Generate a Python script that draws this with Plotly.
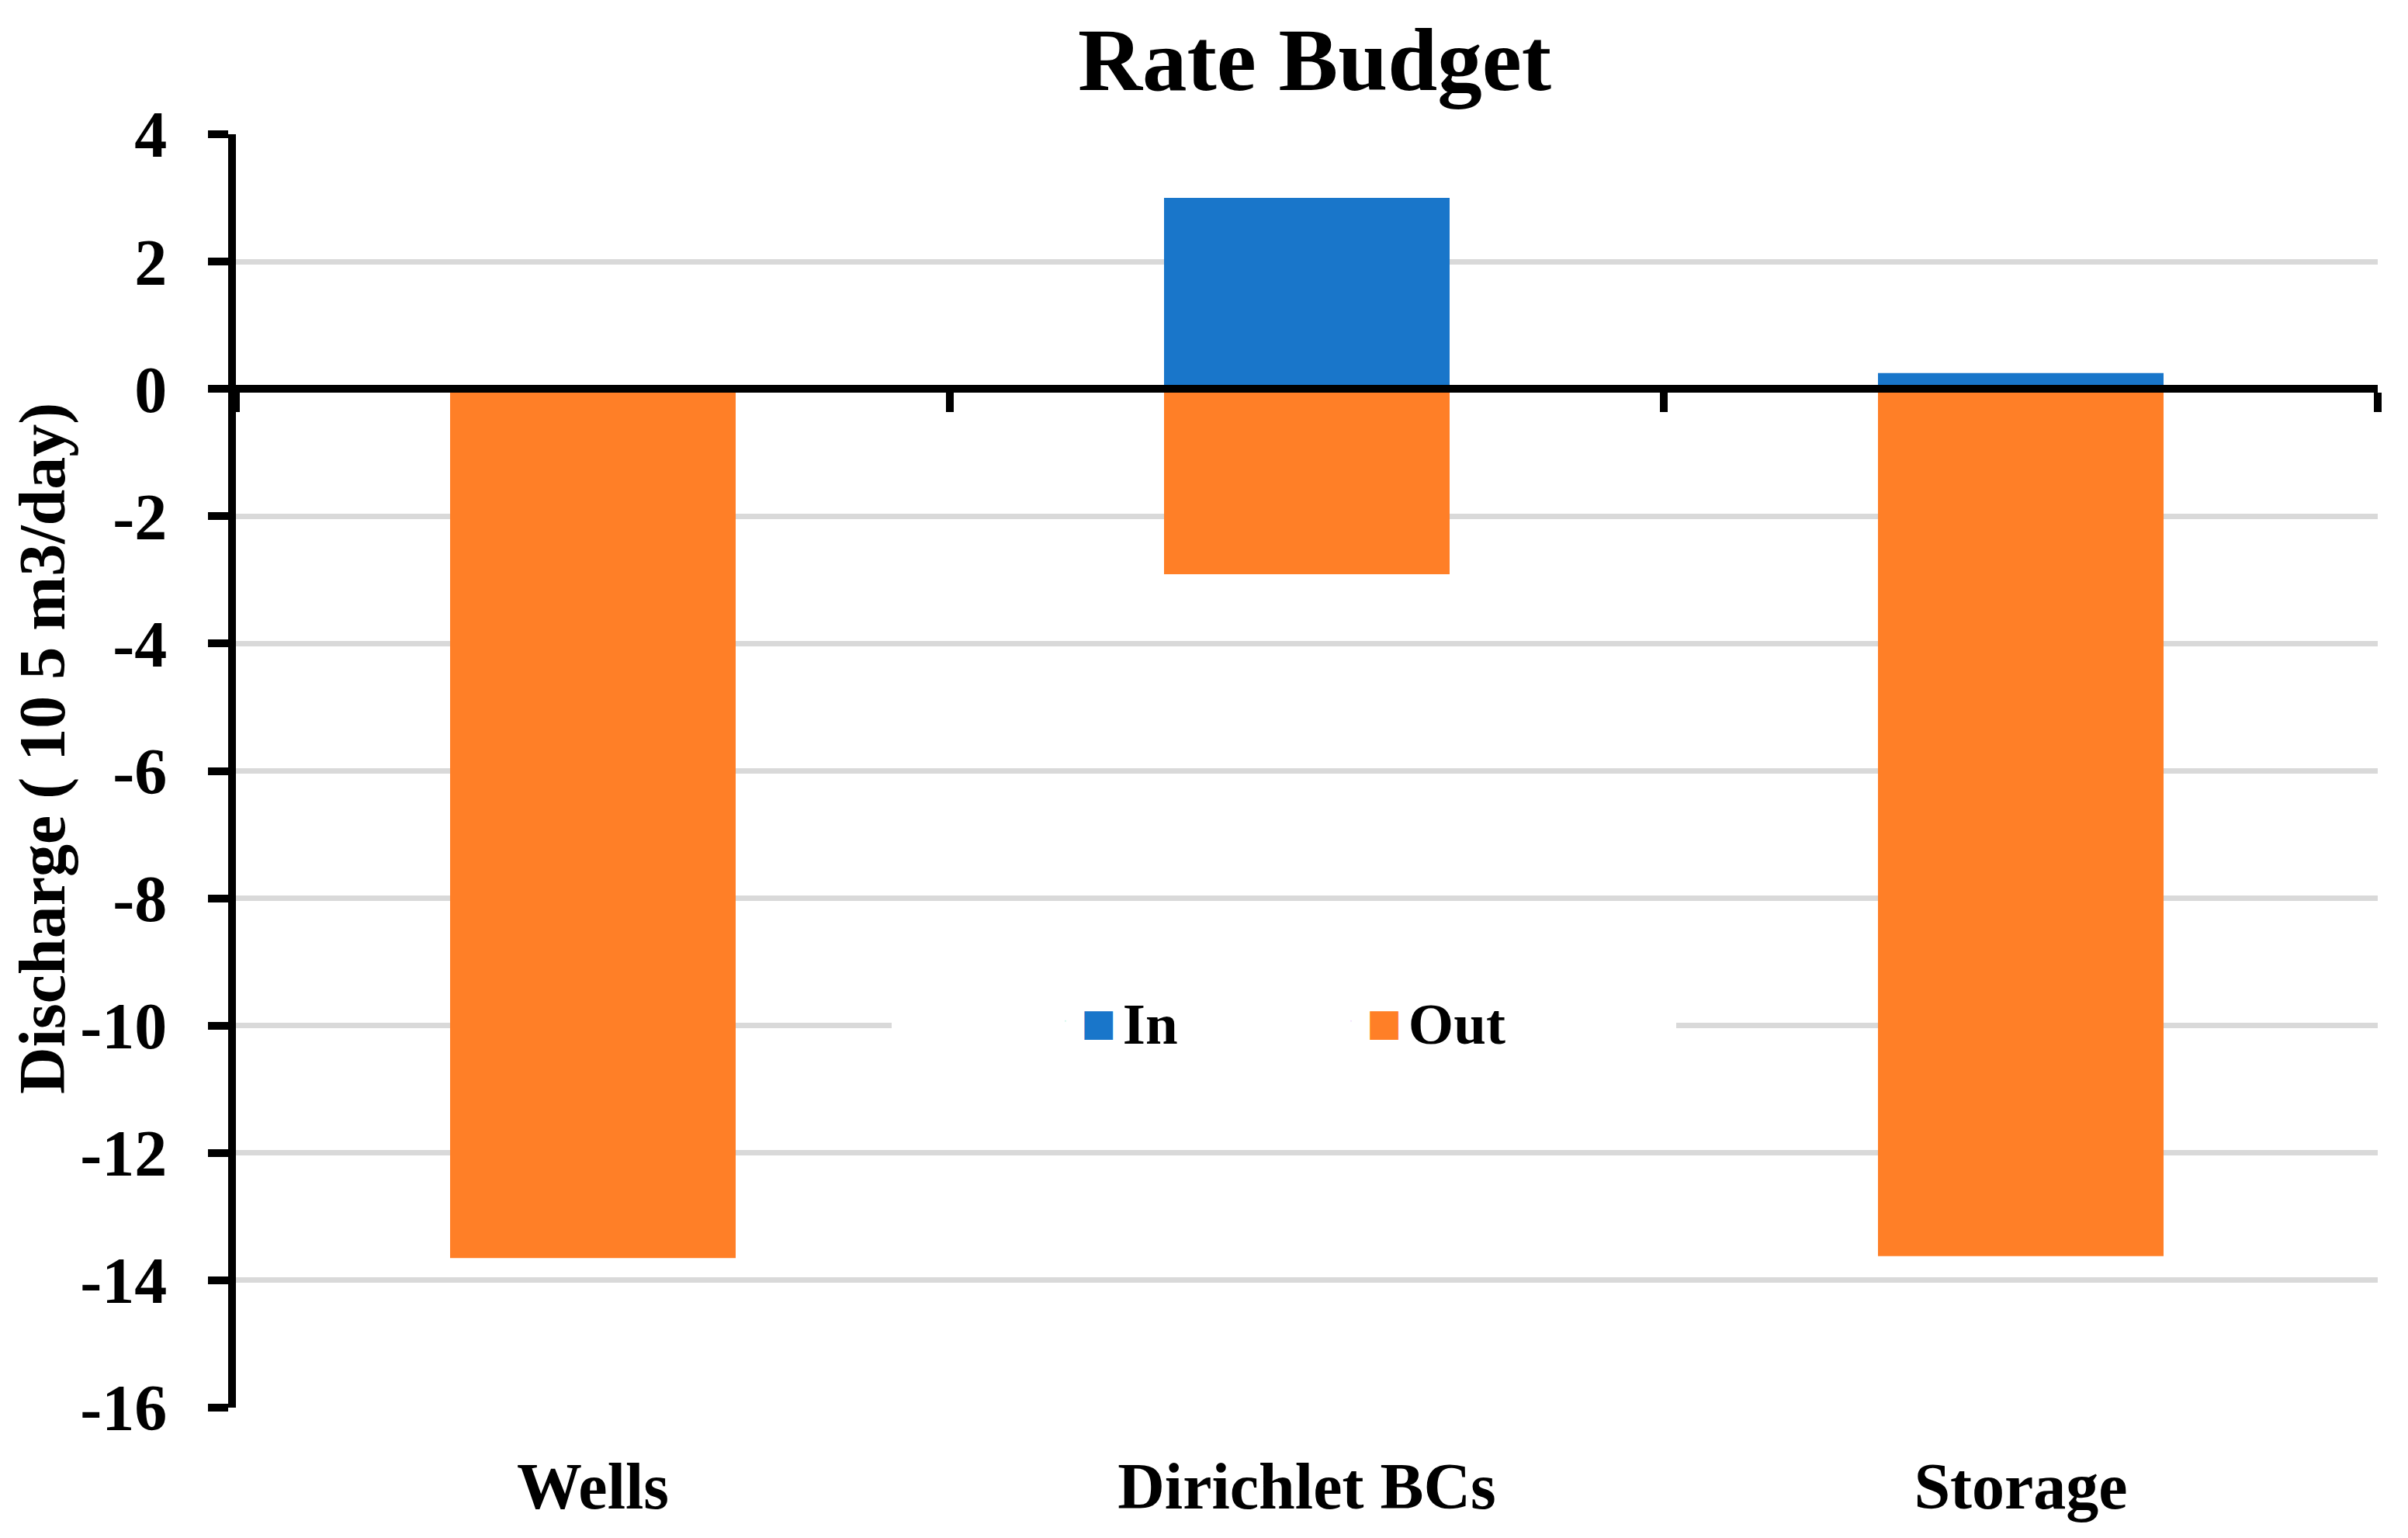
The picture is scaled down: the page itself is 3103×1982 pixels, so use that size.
import plotly.graph_objects as go

# ---------------- data ----------------
categories = ["Wells", "Dirichlet BCs", "Storage"]
rate_in = [0.0, 3.0, 0.25]
rate_out = [-13.65, -2.91, -13.62]
series_names = ["In", "Out"]
series_colors = ["#1976CA", "#FF7F27"]
y_tick_values = [4, 2, 0, -2, -4, -6, -8, -10, -12, -14, -16]
y_tick_labels = ["4", "2", "0", "-2", "-4", "-6", "-8", "-10", "-12", "-14", "-16"]
chart_title = "Rate Budget"
y_title = "Discharge ( 10 5 m3/day)"

# ---------------- layout constants ----------------
# the page body adds an 8px margin, so the figure is drawn 8px in from the window corner
W, H = 3087, 1966
ML, MR, MT, MB = 296, 31, 165, 160
PW, PH = W - ML - MR, H - MT - MB
FONT = "Liberation Serif"
y_min, y_max = min(y_tick_values), max(y_tick_values)
zero_pos = (0 - y_min) / (y_max - y_min)


def px_x(xp):  # figure pixel -> paper x
    return (xp - ML) / PW


def px_y(yp):  # figure pixel -> paper y
    return (H - MB - yp) / PH


fig = go.Figure()
for vals, name, col in zip([rate_in, rate_out], series_names, series_colors):
    fig.add_trace(go.Bar(
        x=categories, y=vals, name=name, width=0.4,
        marker=dict(color=col, line=dict(width=0)),
        showlegend=False, hoverinfo="x+y+name",
    ))

# legend entries (large square swatches) + carrier for the zero-line axis
legend_widths = [119, 394]
for name, col, lw in zip(series_names, series_colors, legend_widths):
    fig.add_trace(go.Scatter(
        x=[None], y=[None], xaxis="x2", yaxis="y", mode="markers",
        marker=dict(opacity=0, size=1), legendwidth=lw,
        name=(f"<span style='color:{col};font-family:DejaVu Sans;font-size:48px;"
              f"baseline-shift:11px'>■</span>"
              f"<span style='font-size:34px'>\u00a0</span>{name}"),
        hoverinfo="skip",
    ))

fig.update_layout(
    width=W, height=H,
    margin=dict(l=ML, r=MR, t=MT, b=MB, autoexpand=False),
    paper_bgcolor="white", plot_bgcolor="white",
    barmode="relative",
    font=dict(family=FONT, color="black", weight="bold"),
    title=dict(text=chart_title, x=1686 / W, xref="container", xanchor="center",
               y=1 - 68 / H, yref="container", yanchor="middle",
               font=dict(family=FONT, size=115, weight="bold", color="black")),
    xaxis=dict(
        type="category", range=[-0.5, len(categories) - 0.5],
        showline=False, showgrid=False, zeroline=False,
        ticks="", ticklabelstandoff=45,
        tickfont=dict(family=FONT, size=84, weight="bold", color="black"),
    ),
    xaxis2=dict(
        overlaying="x", anchor="free", position=zero_pos, side="bottom",
        type="linear", range=[-0.5, len(categories) - 0.5],
        tickvals=[i - 0.5 for i in range(len(categories) + 1)],
        showticklabels=False, ticks="outside", ticklen=25, tickwidth=10, tickcolor="black",
        showline=True, linecolor="black", linewidth=10,
        showgrid=False, zeroline=False,
    ),
    yaxis=dict(
        range=[y_min, y_max], tickvals=y_tick_values, ticktext=y_tick_labels,
        ticks="outside", ticklen=26, tickwidth=10, tickcolor="black",
        showline=True, linecolor="black", linewidth=10,
        showgrid=True, gridcolor="#D9D9D9", gridwidth=7, zeroline=False,
        ticklabelstandoff=36,
        tickfont=dict(family=FONT, size=84, weight="bold", color="black"),
    ),
    legend=dict(
        orientation="h", x=px_x(1141), xanchor="left",
        y=px_y(1308), yanchor="middle", indentation=204,
        bgcolor="white", borderwidth=0, itemwidth=30,
        font=dict(family=FONT, size=75, weight="bold", color="black"),
    ),
    annotations=[dict(
        text=y_title, textangle=-90, showarrow=False,
        xref="paper", yref="paper", x=px_x(47), y=px_y(957),
        xanchor="center", yanchor="middle",
        font=dict(family=FONT, size=84, weight="bold", color="black"),
    )],
)

fig.write_html("out.html")
